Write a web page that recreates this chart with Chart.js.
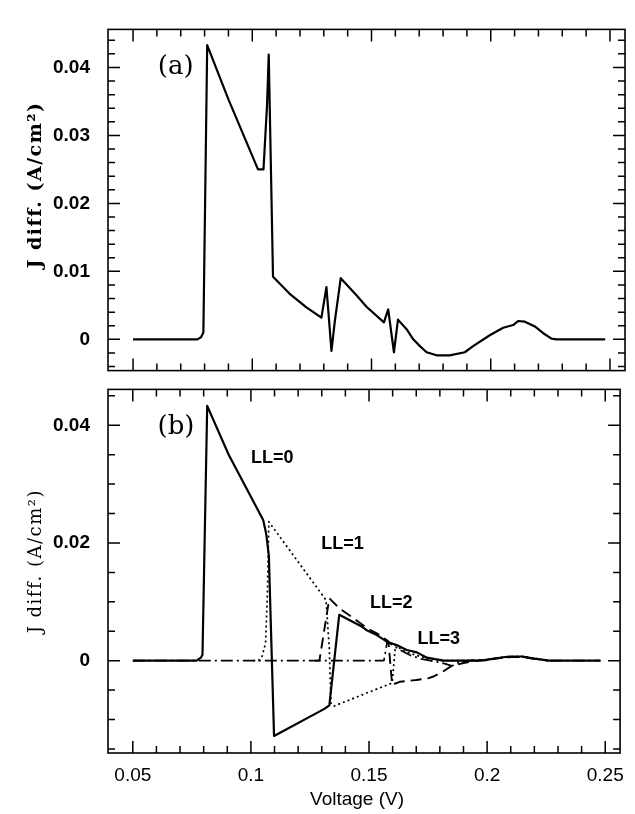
<html>
    <head>
        <title>J diff. vs Voltage</title>
        <script src="https://cdn.jsdelivr.net/npm/chart.js@4.4.0/dist/chart.umd.min.js"></script>
        <style>
            body { margin: 0; background: #fff; width: 635px; height: 814px; position: relative; overflow: hidden; }
            canvas { position: absolute; left: 0; }
            #chart-a { top: 0; }
            #chart-b { top: 360px; }
        </style>
    </head>

    <body>
        <canvas id="chart-a" width="635" height="400"></canvas>
        <canvas id="chart-b" width="635" height="454"></canvas>

        <script>
            // Panel (a): total J diff.
            const voltsTotal = [0.05, 0.077, 0.0785, 0.0795, 0.0811, 0.09, 0.1024, 0.1047, 0.1062, 0.1069, 0.1087,
                0.1157, 0.1227, 0.129, 0.1311, 0.1332, 0.1346, 0.1371, 0.1437, 0.1479, 0.1552, 0.157, 0.1594,
                0.1611, 0.1647, 0.1675, 0.1703, 0.1731, 0.1773, 0.1828, 0.1891, 0.1926, 0.1996, 0.2052, 0.2094,
                0.2115, 0.2143, 0.2185, 0.222, 0.2255, 0.2276, 0.248];
            const jTotal = [0, 0, 0.0003, 0.001, 0.0433, 0.0353, 0.025, 0.025, 0.0345, 0.0419, 0.0092,
                0.0067, 0.0047, 0.0032, 0.0077, -0.0017, 0.0026, 0.009, 0.0065, 0.0048, 0.0025, 0.0044, -0.0019,
                0.0029, 0.0015, 0, -0.001, -0.0019, -0.00235, -0.00235, -0.0019, -0.001, 0.0006, 0.0017, 0.0021,
                0.0027, 0.0026, 0.0019, 0.0009, 0.0001, 0, 0];

            // Panel (b): Landau level contributions
            const voltsLL0 = [0.05, 0.077, 0.0788, 0.0795, 0.0815, 0.0906, 0.1052, 0.1065, 0.1076, 0.1098, 0.1311,
                0.1332, 0.1374, 0.1465, 0.1493, 0.1535, 0.1577, 0.1619, 0.166, 0.1703, 0.1745, 0.1815, 0.196,
                0.1996, 0.2038, 0.2093, 0.215, 0.2193, 0.226, 0.248];
            const jLL0 = [0, 0, 0.0005, 0.001, 0.0433, 0.035, 0.0239, 0.0215, 0.0178, -0.0128, -0.0082,
                -0.0076, 0.0078, 0.0059, 0.0051, 0.0043, 0.0032, 0.0026, 0.0018, 0.0014, 0.0005, 0, 0,
                0.0001, 0.0004, 0.0007, 0.0007, 0.0004, 0, 0];

            const voltsLL1 = [0.101, 0.1032, 0.1048, 0.1062, 0.107, 0.1076, 0.1318, 0.1332, 0.1339, 0.1353, 0.1598,
                0.1612, 0.165, 0.17, 0.1745, 0.18, 0.196, 0.2, 0.205, 0.21, 0.215, 0.22, 0.226];
            const jLL1 = [0, 0, 0.0008, 0.003, 0.0115, 0.0236, 0.0103, 0.002, -0.0074, -0.0077, -0.0038,
                0.0026, 0.0016, 0.0009, 0.0004, 0, 0, 0.0001, 0.0005, 0.0007, 0.0007, 0.0004, 0];

            const voltsLL2 = [0.127, 0.129, 0.1332, 0.1374, 0.1438, 0.1495, 0.1535, 0.1582, 0.1598, 0.163, 0.17,
                0.175, 0.1773, 0.1815, 0.185, 0.19, 0.196, 0.2, 0.205, 0.21, 0.215, 0.22, 0.226];
            const jLL2 = [0, 0, 0.0106, 0.0089, 0.0071, 0.0054, 0.0046, 0.0033, -0.0041, -0.0036, -0.0033,
                -0.003, -0.0027, -0.0018, -0.0009, -0.0004, 0, 0.0001, 0.0004, 0.0006, 0.0006, 0.0003, 0];

            const voltsLL3 = [0.05, 0.1563, 0.1577, 0.1633, 0.1675, 0.172, 0.176, 0.182, 0.185, 0.188, 0.192,
                0.2, 0.205, 0.21, 0.215, 0.22, 0.226, 0.248];
            const jLL3 = [0, 0, 0.0032, 0.0018, 0.0009, 0.0003, 0, -0.0005, -0.0009, -0.0003, 0,
                0.0002, 0.0005, 0.0006, 0.0006, 0.0003, 0, 0];

            // tick labels
            const xTicks = [0.05, 0.1, 0.15, 0.2, 0.25];
            const yTicksA = [0, 0.01, 0.02, 0.03, 0.04];
            const yTicksB = [0, 0.02, 0.04];

            const labelsB = [
                { text: 'LL=0', x: 0.109, y: 0.0345 },
                { text: 'LL=1', x: 0.1388, y: 0.0198 },
                { text: 'LL=2', x: 0.1594, y: 0.0098 },
                { text: 'LL=3', x: 0.1795, y: 0.0037 }
            ];

            const xMin = 0.0395, xMax = 0.2563;
            const toPoints = (xs, ys) => xs.map((v, i) => ({ x: v, y: ys[i] }));

            // frame + inward ticks on all four sides, plus text
            const framePlugin = {
                id: 'frame',
                afterDraw(chart, args, opts) {
                    const { ctx, chartArea: a, scales: { x, y } } = chart;
                    ctx.save();
                    ctx.strokeStyle = '#000';
                    ctx.lineWidth = 1.6;
                    ctx.strokeRect(a.left, a.top, a.right - a.left, a.bottom - a.top);

                    ctx.lineWidth = 1.5;
                    ctx.beginPath();
                    for (let k = 5; k <= 25; k++) {
                        const px = x.getPixelForValue(k * 0.01);
                        const len = k % 5 === 0 ? 12 : 7;
                        ctx.moveTo(px, a.top); ctx.lineTo(px, a.top + len);
                        ctx.moveTo(px, a.bottom); ctx.lineTo(px, a.bottom - len);
                    }
                    for (let k = opts.yFrom; k <= opts.yTo; k++) {
                        const py = y.getPixelForValue(k * opts.yMinor);
                        if (py < a.top + 1 || py > a.bottom - 1) continue;
                        const len = k % opts.yEvery === 0 ? 12 : 7;
                        ctx.moveTo(a.left, py); ctx.lineTo(a.left + len, py);
                        ctx.moveTo(a.right, py); ctx.lineTo(a.right - len, py);
                    }
                    ctx.stroke();

                    ctx.fillStyle = '#000';
                    // panel letter
                    ctx.font = '26px "DejaVu Serif"';
                    ctx.textAlign = 'center';
                    ctx.textBaseline = 'middle';
                    ctx.fillText(opts.panel.text, x.getPixelForValue(opts.panel.x), y.getPixelForValue(opts.panel.y));

                    ctx.font = 'bold 18px "Liberation Sans"';
                    (opts.labels || []).forEach(l => {
                        ctx.fillText(l.text, x.getPixelForValue(l.x), y.getPixelForValue(l.y));
                    });

                    // y axis title
                    ctx.save();
                    ctx.translate(36, (a.top + a.bottom) / 2 + opts.titleShift);
                    ctx.rotate(-Math.PI / 2);
                    ctx.font = opts.titleFont;
                    ctx.letterSpacing = '1.5px';
                    ctx.fillText('J diff. (A/cm²)', 0, 0);
                    ctx.restore();

                    if (opts.xTitle) {
                        ctx.font = '19px "Liberation Sans"';
                        ctx.fillText('Voltage (V)', 357, chart.height - 14);
                    }
                    ctx.restore();
                }
            };

            function yScale(min, max, ticks) {
                return {
                    type: 'linear',
                    min, max,
                    afterFit: s => { s.width = 108; },
                    afterBuildTicks: s => { s.ticks = ticks.map(v => ({ value: v })); },
                    grid: { display: false, drawTicks: false },
                    border: { display: false },
                    ticks: {
                        padding: 18,
                        color: '#000',
                        font: { family: 'Liberation Sans', size: 19, weight: 'bold' },
                        callback: v => String(v)
                    }
                };
            }

            const baseOptions = {
                responsive: false,
                animation: false,
                devicePixelRatio: 1,
                elements: { point: { radius: 0 }, line: { tension: 0, borderJoinStyle: 'round' } },
                plugins: { legend: { display: false }, tooltip: { enabled: false } }
            };

            new Chart(document.getElementById('chart-a'), {
                type: 'line',
                data: {
                    datasets: [{
                        data: toPoints(voltsTotal, jTotal),
                        borderColor: '#000',
                        borderWidth: 2.2
                    }]
                },
                options: {
                    ...baseOptions,
                    layout: { padding: { top: 10, right: 10, bottom: 20, left: 0 } },
                    scales: {
                        x: { type: 'linear', min: xMin, max: xMax, display: false },
                        y: yScale(-0.0046, 0.0456, yTicksA)
                    },
                    plugins: {
                        ...baseOptions.plugins,
                        frame: {
                            yFrom: -2, yTo: 22, yMinor: 0.002, yEvery: 5,
                            panel: { text: '(a)', x: 0.0679, y: 0.04 },
                            titleFont: 'bold 19px "DejaVu Serif"', titleShift: -15
                        }
                    }
                },
                plugins: [framePlugin]
            });

            new Chart(document.getElementById('chart-b'), {
                type: 'line',
                data: {
                    datasets: [
                        { label: 'LL=0', data: toPoints(voltsLL0, jLL0), borderColor: '#000', borderWidth: 2.2 },
                        { label: 'LL=1', data: toPoints(voltsLL1, jLL1), borderColor: '#000', borderWidth: 1.7, borderDash: [2, 3] },
                        { label: 'LL=2', data: toPoints(voltsLL2, jLL2), borderColor: '#000', borderWidth: 1.9, borderDash: [11, 6] },
                        { label: 'LL=3', data: toPoints(voltsLL3, jLL3), borderColor: '#000', borderWidth: 1.7, borderDash: [12, 4, 2, 4] }
                    ]
                },
                options: {
                    ...baseOptions,
                    layout: { padding: { top: 20, right: 10, bottom: 0, left: 0 } },
                    scales: {
                        x: {
                            type: 'linear', min: xMin, max: xMax,
                            afterFit: s => { s.height = 61; },
                            afterBuildTicks: s => { s.ticks = xTicks.map(v => ({ value: v })); },
                            grid: { display: false, drawTicks: false },
                            border: { display: false },
                            ticks: {
                                padding: 11,
                                autoSkip: false,
                                maxRotation: 0,
                                color: '#000',
                                font: { family: 'Liberation Sans', size: 19 },
                                callback: v => String(v)
                            }
                        },
                        y: yScale(-0.0157, 0.0461, yTicksB)
                    },
                    plugins: {
                        ...baseOptions.plugins,
                        frame: {
                            yFrom: -3, yTo: 9, yMinor: 0.005, yEvery: 4,
                            panel: { text: '(b)', x: 0.0683, y: 0.0397 },
                            labels: labelsB,
                            titleFont: '18px "DejaVu Serif"', titleShift: -10,
                            xTitle: true
                        }
                    }
                },
                plugins: [framePlugin]
            });
        </script>
    </body>
</html>
